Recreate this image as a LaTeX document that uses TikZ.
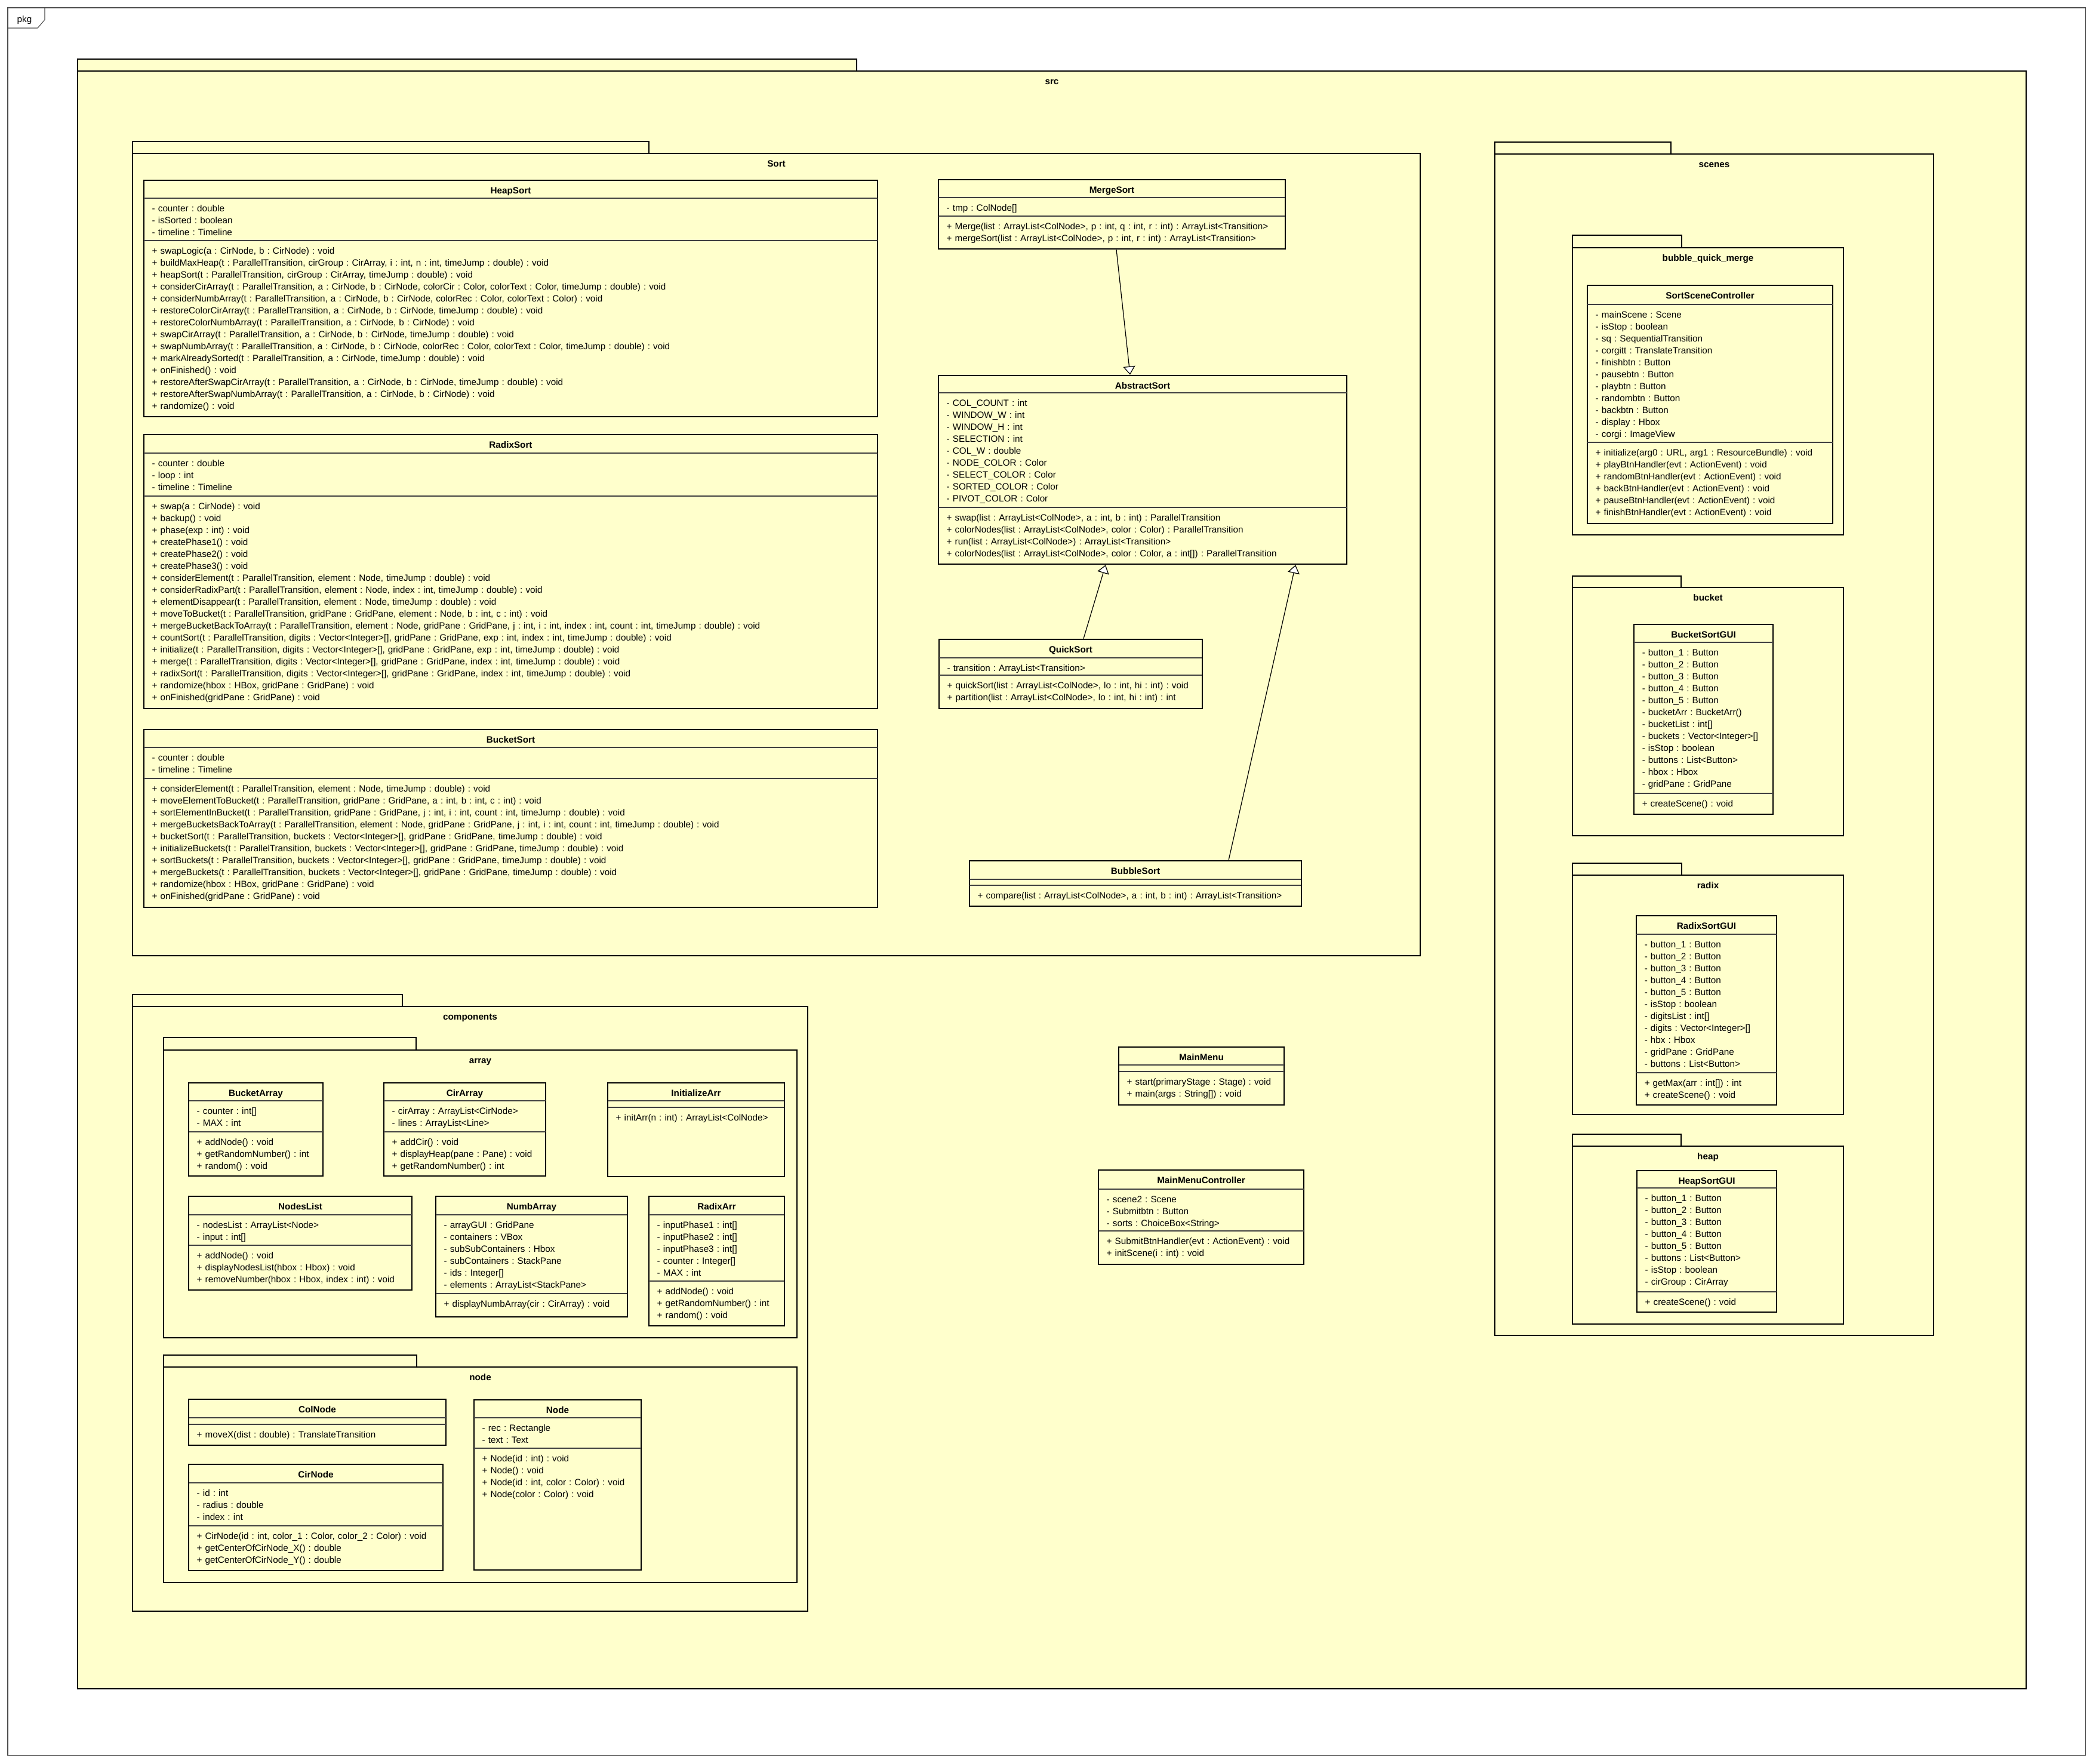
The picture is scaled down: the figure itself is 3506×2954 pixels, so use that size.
\documentclass[tikz,border=0pt]{standalone}
\usepackage{fontspec}
\setmainfont{Liberation Sans}
\usepackage{tikz}
\usetikzlibrary{arrows.meta, fit}

\definecolor{umlyellow}{HTML}{FFFFCC}

\newcommand\umlfont{\fontsize{4.34pt}{5.69pt}\selectfont\frenchspacing}

% package: name, left, tab top, tab right, body top, right, bottom, label
\newcommand\umlpkg[8]{%
  \draw[pkgline] (#2,#3) rectangle (#4,#5);
  \draw[pkgline] (#2,#5) rectangle (#6,#7);
  \node[pkglabel] (#1) at ({(#2+#6)/2},{#5+22}) {#8};
}

% class: left, top, right, bottom, 1st and 2nd separator, name, attributes, operations
\newcommand\umlclass[9]{%
  \node[classbox, fit={(#1,#2) (#3,#4)}] (#7) {};
  \draw[sepline] (#1,#5) -- (#3,#5);
  \draw[sepline] (#1,#6) -- (#3,#6);
  \node[classtitle] (#7-title) at ({(#1+#3)/2},{#2+22.5}) {#7};
  \node[members] (#7-attr) at (#1,{#5+22}) {#8};
  \node[members] (#7-ops) at (#1,{#6+22.5}) {#9};
}

\begin{document}
\begin{tikzpicture}[
    x=0.01cm, y=-0.01cm,
    frameline/.style={draw=black!70, line width=0.3pt},
    pkgline/.style={draw=black, line width=0.75pt, fill=umlyellow},
    pkglabel/.style={anchor=base, inner sep=0pt, font=\umlfont\bfseries},
    classbox/.style={draw=black, line width=0.75pt, fill=umlyellow, inner sep=0pt},
    sepline/.style={draw=black!75, line width=0.35pt},
    classtitle/.style={anchor=base, inner sep=0pt, font=\umlfont\bfseries},
    members/.style={anchor=base west, text width=20cm, align=left, inner xsep=0.13cm, inner ysep=0pt, font=\umlfont},
    generalize/.style={-{Triangle[open, fill=white, length=0.14cm, width=0.2cm]}, line width=0.35pt}
]
\useasboundingbox (0,0) rectangle (3506,2954);
\fill[white] (0,0) rectangle (3506,2954);

% Frame
\draw[frameline] (13,13) rectangle (3493,2940);
\draw[frameline] (75,13) -- (75,33) -- (63,47) -- (13,47);
\node[anchor=base, inner sep=0pt, font=\umlfont] (pkgtag) at (41,37) {pkg};

% src
\umlpkg{src}{130}{99}{1435}{119}{3394}{2829}{src}

% Sort
\umlpkg{sort}{222}{237}{1087}{257}{2379}{1601}{Sort}

\umlclass{241}{302}{1470}{698}{332}{403}{HeapSort}
  {- counter : double\\ - isSorted : boolean\\ - timeline : Timeline}
  {+ swapLogic(a : CirNode, b : CirNode) : void\\
   + buildMaxHeap(t : ParallelTransition, cirGroup : CirArray, i : int, n : int, timeJump : double) : void\\
   + heapSort(t : ParallelTransition, cirGroup : CirArray, timeJump : double) : void\\
   + considerCirArray(t : ParallelTransition, a : CirNode, b : CirNode, colorCir : Color, colorText : Color, timeJump : double) : void\\
   + considerNumbArray(t : ParallelTransition, a : CirNode, b : CirNode, colorRec : Color, colorText : Color) : void\\
   + restoreColorCirArray(t : ParallelTransition, a : CirNode, b : CirNode, timeJump : double) : void\\
   + restoreColorNumbArray(t : ParallelTransition, a : CirNode, b : CirNode) : void\\
   + swapCirArray(t : ParallelTransition, a : CirNode, b : CirNode, timeJump : double) : void\\
   + swapNumbArray(t : ParallelTransition, a : CirNode, b : CirNode, colorRec : Color, colorText : Color, timeJump : double) : void\\
   + markAlreadySorted(t : ParallelTransition, a : CirNode, timeJump : double) : void\\
   + onFinished() : void\\
   + restoreAfterSwapCirArray(t : ParallelTransition, a : CirNode, b : CirNode, timeJump : double) : void\\
   + restoreAfterSwapNumbArray(t : ParallelTransition, a : CirNode, b : CirNode) : void\\
   + randomize() : void}

\umlclass{241}{728}{1470}{1187}{759}{831}{RadixSort}
  {- counter : double\\ - loop : int\\ - timeline : Timeline}
  {+ swap(a : CirNode) : void\\
   + backup() : void\\
   + phase(exp : int) : void\\
   + createPhase1() : void\\
   + createPhase2() : void\\
   + createPhase3() : void\\
   + considerElement(t : ParallelTransition, element : Node, timeJump : double) : void\\
   + considerRadixPart(t : ParallelTransition, element : Node, index : int, timeJump : double) : void\\
   + elementDisappear(t : ParallelTransition, element : Node, timeJump : double) : void\\
   + moveToBucket(t : ParallelTransition, gridPane : GridPane, element : Node, b : int, c : int) : void\\
   + mergeBucketBackToArray(t : ParallelTransition, element : Node, gridPane : GridPane, j : int, i : int, index : int, count : int, timeJump : double) : void\\
   + countSort(t : ParallelTransition, digits : Vector<Integer>[], gridPane : GridPane, exp : int, index : int, timeJump : double) : void\\
   + initialize(t : ParallelTransition, digits : Vector<Integer>[], gridPane : GridPane, exp : int, timeJump : double) : void\\
   + merge(t : ParallelTransition, digits : Vector<Integer>[], gridPane : GridPane, index : int, timeJump : double) : void\\
   + radixSort(t : ParallelTransition, digits : Vector<Integer>[], gridPane : GridPane, index : int, timeJump : double) : void\\
   + randomize(hbox : HBox, gridPane : GridPane) : void\\
   + onFinished(gridPane : GridPane) : void}

\umlclass{241}{1222}{1470}{1520}{1252}{1304}{BucketSort}
  {- counter : double\\ - timeline : Timeline}
  {+ considerElement(t : ParallelTransition, element : Node, timeJump : double) : void\\
   + moveElementToBucket(t : ParallelTransition, gridPane : GridPane, a : int, b : int, c : int) : void\\
   + sortElementInBucket(t : ParallelTransition, gridPane : GridPane, j : int, i : int, count : int, timeJump : double) : void\\
   + mergeBucketsBackToArray(t : ParallelTransition, element : Node, gridPane : GridPane, j : int, i : int, count : int, timeJump : double) : void\\
   + bucketSort(t : ParallelTransition, buckets : Vector<Integer>[], gridPane : GridPane, timeJump : double) : void\\
   + initializeBuckets(t : ParallelTransition, buckets : Vector<Integer>[], gridPane : GridPane, timeJump : double) : void\\
   + sortBuckets(t : ParallelTransition, buckets : Vector<Integer>[], gridPane : GridPane, timeJump : double) : void\\
   + mergeBuckets(t : ParallelTransition, buckets : Vector<Integer>[], gridPane : GridPane, timeJump : double) : void\\
   + randomize(hbox : HBox, gridPane : GridPane) : void\\
   + onFinished(gridPane : GridPane) : void}

\umlclass{1572}{301}{2153}{417}{331}{362}{MergeSort}
  {- tmp : ColNode[]}
  {+ Merge(list : ArrayList<ColNode>, p : int, q : int, r : int) : ArrayList<Transition>\\
   + mergeSort(list : ArrayList<ColNode>, p : int, r : int) : ArrayList<Transition>}

\umlclass{1572}{629}{2256}{945}{658}{850}{AbstractSort}
  {- COL\_COUNT : int\\ - WINDOW\_W : int\\ - WINDOW\_H : int\\ - SELECTION : int\\ - COL\_W : double\\
   - NODE\_COLOR : Color\\ - SELECT\_COLOR : Color\\ - SORTED\_COLOR : Color\\ - PIVOT\_COLOR : Color}
  {+ swap(list : ArrayList<ColNode>, a : int, b : int) : ParallelTransition\\
   + colorNodes(list : ArrayList<ColNode>, color : Color) : ParallelTransition\\
   + run(list : ArrayList<ColNode>) : ArrayList<Transition>\\
   + colorNodes(list : ArrayList<ColNode>, color : Color, a : int[]) : ParallelTransition}

\umlclass{1573}{1071}{2014}{1187}{1102}{1131}{QuickSort}
  {- transition : ArrayList<Transition>}
  {+ quickSort(list : ArrayList<ColNode>, lo : int, hi : int) : void\\
   + partition(list : ArrayList<ColNode>, lo : int, hi : int) : int}

\umlclass{1624}{1442}{2180}{1518}{1473}{1483}{BubbleSort}
  {}
  {+ compare(list : ArrayList<ColNode>, a : int, b : int) : ArrayList<Transition>}

% Generalizations
\draw[generalize] ([xshift=0.075cm]MergeSort.south) -- ([xshift=-0.21cm]AbstractSort.north);
\draw[generalize] ([xshift=0.215cm]QuickSort.north) -- ([xshift=-0.62cm]AbstractSort.south);
\draw[generalize] ([xshift=1.56cm]BubbleSort.north) -- ([xshift=2.56cm]AbstractSort.south);

% scenes
\umlpkg{scenes}{2504}{238}{2799}{258}{3239}{2237}{scenes}

\umlpkg{bqm}{2634}{394}{2817}{415}{3088}{896}{bubble\_quick\_merge}
\umlclass{2659}{478}{3070}{877}{510}{741}{SortSceneController}
  {- mainScene : Scene\\ - isStop : boolean\\ - sq : SequentialTransition\\ - corgitt : TranslateTransition\\
   - finishbtn : Button\\ - pausebtn : Button\\ - playbtn : Button\\ - randombtn : Button\\
   - backbtn : Button\\ - display : Hbox\\ - corgi : ImageView}
  {+ initialize(arg0 : URL, arg1 : ResourceBundle) : void\\
   + playBtnHandler(evt : ActionEvent) : void\\
   + randomBtnHandler(evt : ActionEvent) : void\\
   + backBtnHandler(evt : ActionEvent) : void\\
   + pauseBtnHandler(evt : ActionEvent) : void\\
   + finishBtnHandler(evt : ActionEvent) : void}

\umlpkg{bucket}{2634}{965}{2816}{984}{3088}{1400}{bucket}
\umlclass{2737}{1046}{2970}{1364}{1076}{1329}{BucketSortGUI}
  {- button\_1 : Button\\ - button\_2 : Button\\ - button\_3 : Button\\ - button\_4 : Button\\ - button\_5 : Button\\
   - bucketArr : BucketArr()\\ - bucketList : int[]\\ - buckets : Vector<Integer>[]\\ - isStop : boolean\\
   - buttons : List<Button>\\ - hbox : Hbox\\ - gridPane : GridPane}
  {+ createScene() : void}

\umlpkg{radix}{2634}{1446}{2817}{1466}{3088}{1867}{radix}
\umlclass{2741}{1534}{2976}{1851}{1565}{1797}{RadixSortGUI}
  {- button\_1 : Button\\ - button\_2 : Button\\ - button\_3 : Button\\ - button\_4 : Button\\ - button\_5 : Button\\
   - isStop : boolean\\ - digitsList : int[]\\ - digits : Vector<Integer>[]\\ - hbx : Hbox\\
   - gridPane : GridPane\\ - buttons : List<Button>}
  {+ getMax(arr : int[]) : int\\ + createScene() : void}

\umlpkg{heap}{2634}{1900}{2816}{1920}{3088}{2218}{heap}
\umlclass{2742}{1961}{2976}{2198}{1990}{2164}{HeapSortGUI}
  {- button\_1 : Button\\ - button\_2 : Button\\ - button\_3 : Button\\ - button\_4 : Button\\ - button\_5 : Button\\
   - buttons : List<Button>\\ - isStop : boolean\\ - cirGroup : CirArray}
  {+ createScene() : void}

% components
\umlpkg{components}{222}{1666}{674}{1686}{1353}{2699}{components}

\umlpkg{array}{274}{1738}{697}{1759}{1335}{2241}{array}
\umlclass{316}{1814}{541}{1970}{1844}{1896}{BucketArray}
  {- counter : int[]\\ - MAX : int}
  {+ addNode() : void\\ + getRandomNumber() : int\\ + random() : void}
\umlclass{643}{1814}{914}{1970}{1844}{1896}{CirArray}
  {- cirArray : ArrayList<CirNode>\\ - lines : ArrayList<Line>}
  {+ addCir() : void\\ + displayHeap(pane : Pane) : void\\ + getRandomNumber() : int}
\umlclass{1018}{1814}{1314}{1971}{1844}{1855}{InitializeArr}
  {}
  {+ initArr(n : int) : ArrayList<ColNode>}
\umlclass{316}{2004}{690}{2161}{2035}{2086}{NodesList}
  {- nodesList : ArrayList<Node>\\ - input : int[]}
  {+ addNode() : void\\ + displayNodesList(hbox : Hbox) : void\\ + removeNumber(hbox : Hbox, index : int) : void}
\umlclass{730}{2004}{1051}{2206}{2035}{2167}{NumbArray}
  {- arrayGUI : GridPane\\ - containers : VBox\\ - subSubContainers : Hbox\\ - subContainers : StackPane\\
   - ids : Integer[]\\ - elements : ArrayList<StackPane>}
  {+ displayNumbArray(cir : CirArray) : void}
\umlclass{1087}{2004}{1314}{2221}{2035}{2146}{RadixArr}
  {- inputPhase1 : int[]\\ - inputPhase2 : int[]\\ - inputPhase3 : int[]\\ - counter : Integer[]\\ - MAX : int}
  {+ addNode() : void\\ + getRandomNumber() : int\\ + random() : void}

\umlpkg{node}{274}{2270}{698}{2290}{1335}{2651}{node}
\umlclass{316}{2344}{747}{2421}{2375}{2386}{ColNode}
  {}
  {+ moveX(dist : double) : TranslateTransition}
\umlclass{316}{2453}{742}{2631}{2484}{2556}{CirNode}
  {- id : int\\ - radius : double\\ - index : int}
  {+ CirNode(id : int, color\_1 : Color, color\_2 : Color) : void\\
   + getCenterOfCirNode\_X() : double\\ + getCenterOfCirNode\_Y() : double}
\umlclass{794}{2345}{1074}{2630}{2375}{2426}{Node}
  {- rec : Rectangle\\ - text : Text}
  {+ Node(id : int) : void\\ + Node() : void\\ + Node(id : int, color : Color) : void\\ + Node(color : Color) : void}

% Main menu
\umlclass{1874}{1754}{2151}{1851}{1784}{1795}{MainMenu}
  {}
  {+ start(primaryStage : Stage) : void\\ + main(args : String[]) : void}
\umlclass{1840}{1960}{2184}{2118}{1992}{2062}{MainMenuController}
  {- scene2 : Scene\\ - Submitbtn : Button\\ - sorts : ChoiceBox<String>}
  {+ SubmitBtnHandler(evt : ActionEvent) : void\\ + initScene(i : int) : void}
\end{tikzpicture}
\end{document}
